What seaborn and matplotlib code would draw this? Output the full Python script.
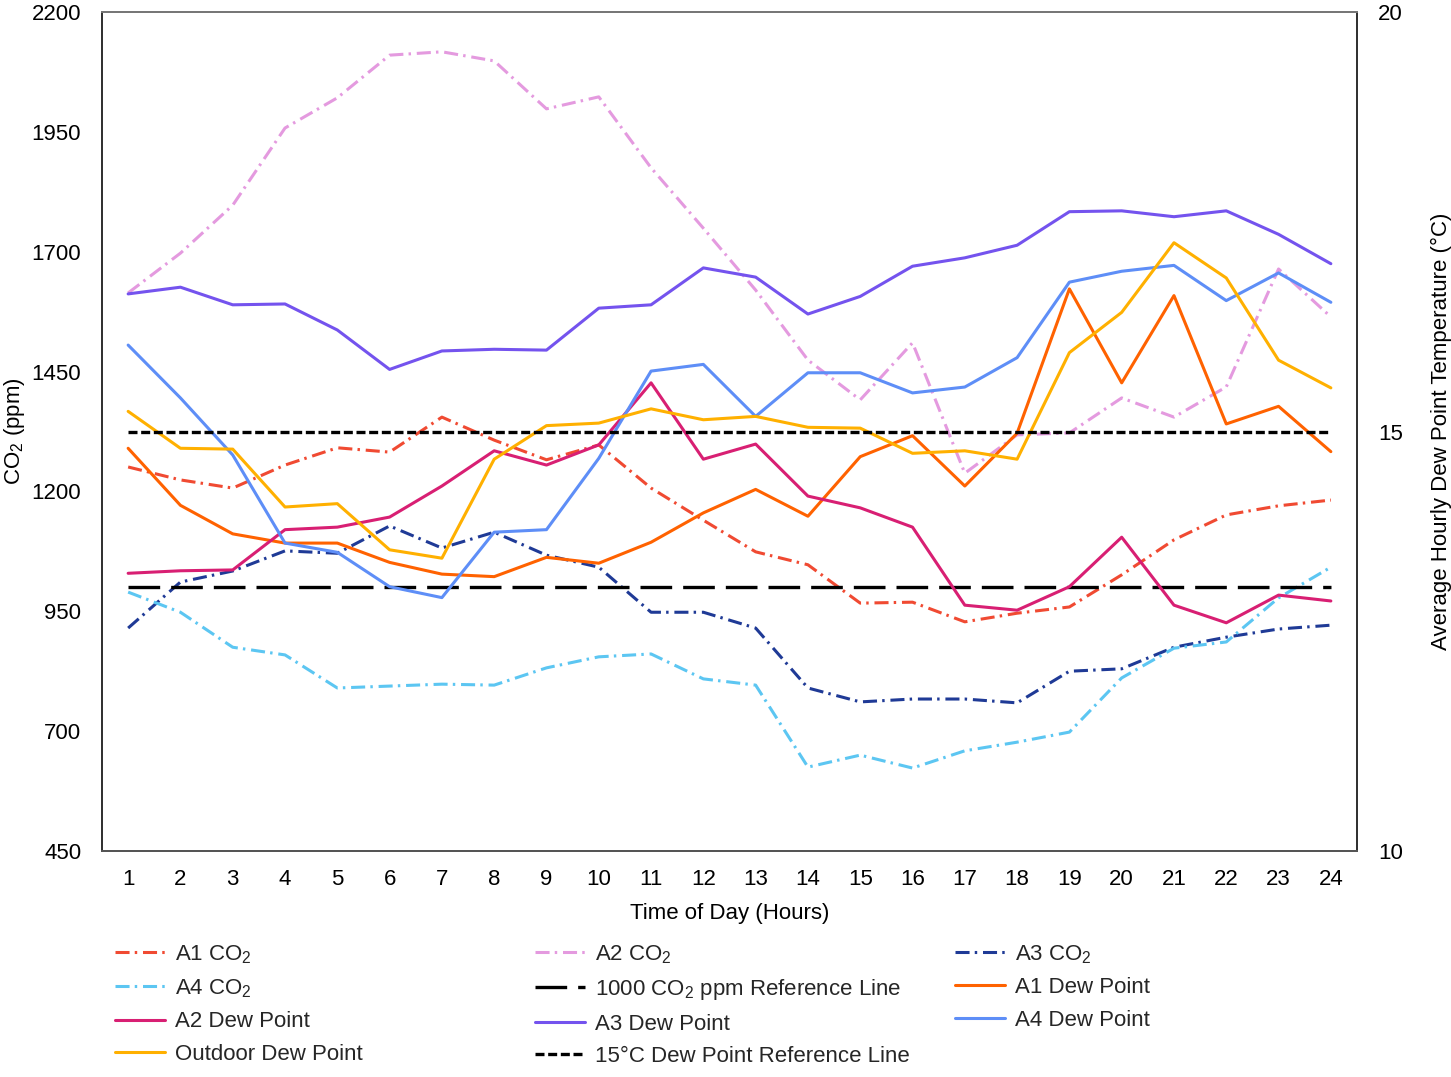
import matplotlib
matplotlib.use("Agg")
import matplotlib.pyplot as plt
import seaborn as sns
import numpy as np
import pandas as pd

sns.set_theme(style="white")
plt.rcParams['font.family'] = ['Liberation Sans', 'DejaVu Sans']
plt.rcParams['mathtext.fontset'] = 'custom'
plt.rcParams['mathtext.rm'] = 'Liberation Sans'
plt.rcParams['mathtext.it'] = 'Liberation Sans:italic'

hours = list(range(1, 25))

a1_co2 = [1251, 1224, 1207, 1255, 1291, 1282, 1355, 1307, 1266, 1297, 1207, 1140,
          1074, 1047, 967, 969, 928, 946, 959, 1026, 1099, 1151, 1170, 1182]
a2_co2 = [1614, 1697, 1797, 1958, 2021, 2110, 2117, 2098, 1998, 2023, 1875, 1749,
          1620, 1474, 1391, 1510, 1238, 1318, 1322, 1395, 1355, 1418, 1664, 1564]
a3_co2 = [915, 1011, 1034, 1076, 1071, 1128, 1082, 1115, 1067, 1042, 948, 948,
          915, 790, 761, 767, 767, 759, 825, 830, 875, 896, 913, 921]
a4_co2 = [990, 948, 875, 859, 790, 794, 798, 796, 832, 855, 861, 809,
          796, 625, 650, 623, 659, 677, 698, 811, 873, 886, 978, 1042]

a1_dew = [14.80, 14.12, 13.78, 13.67, 13.67, 13.44, 13.30, 13.27, 13.50, 13.43, 13.68, 14.03,
          14.31, 13.99, 14.70, 14.95, 14.35, 14.98, 16.70, 15.58, 16.62, 15.09, 15.30, 14.76]
a2_dew = [13.31, 13.34, 13.35, 13.83, 13.86, 13.98, 14.35, 14.77, 14.60, 14.84, 15.58, 14.67,
          14.85, 14.23, 14.09, 13.86, 12.93, 12.87, 13.15, 13.74, 12.93, 12.72, 13.05, 12.98]
a3_dew = [16.64, 16.72, 16.51, 16.52, 16.21, 15.74, 15.96, 15.98, 15.97, 16.47, 16.51, 16.95,
          16.84, 16.40, 16.61, 16.97, 17.07, 17.22, 17.62, 17.63, 17.56, 17.63, 17.35, 17.00]
a4_dew = [16.03, 15.40, 14.72, 13.67, 13.56, 13.15, 13.02, 13.80, 13.83, 14.68, 15.72, 15.80,
          15.18, 15.70, 15.70, 15.46, 15.53, 15.88, 16.78, 16.91, 16.98, 16.56, 16.89, 16.54]
outdoor_dew = [15.24, 14.80, 14.79, 14.10, 14.14, 13.59, 13.49, 14.67, 15.07, 15.10, 15.27, 15.14,
               15.18, 15.05, 15.04, 14.74, 14.77, 14.67, 15.94, 16.42, 17.25, 16.83, 15.85, 15.52]

co2_ref = 1000
dew_ref = 15

W, H = 1451, 1077
fig = plt.figure(figsize=(W / 100, H / 100), dpi=100)
ax = fig.add_axes([102 / W, 1 - 851 / H, (1357 - 102) / W, (851 - 12) / H])
ax2 = ax.twinx()

dashdot = (0, (4.6, 1.7, 0.8, 1.9))
lw = 2.2

co2_series = [
    ("A1 CO$_\\mathregular{2}$", a1_co2, "#F04A32"),
    ("A2 CO$_\\mathregular{2}$", a2_co2, "#E49ADF"),
    ("A3 CO$_\\mathregular{2}$", a3_co2, "#1F3A96"),
    ("A4 CO$_\\mathregular{2}$", a4_co2, "#5CC6F2"),
]
handles = {}
for name, vals, col in co2_series:
    sns.lineplot(x=hours, y=vals, ax=ax, color=col, linewidth=lw, linestyle=dashdot, legend=False)
    handles[name] = ax.get_lines()[-1]

ref1000 = "1000 CO$_\\mathregular{2}$ ppm Reference Line"
sns.lineplot(x=hours, y=[co2_ref] * len(hours), ax=ax, color="black", linewidth=2.4,
             linestyle=(0, (9.5, 3.3)), legend=False)
handles[ref1000] = ax.get_lines()[-1]

dew_series = [
    ("A1 Dew Point", a1_dew, "#FF6200"),
    ("A2 Dew Point", a2_dew, "#D81F73"),
    ("A3 Dew Point", a3_dew, "#7453EE"),
    ("A4 Dew Point", a4_dew, "#5E8EF7"),
    ("Outdoor Dew Point", outdoor_dew, "#FFB000"),
]
for name, vals, col in dew_series:
    sns.lineplot(x=hours, y=vals, ax=ax2, color=col, linewidth=lw, legend=False)
    handles[name] = ax2.get_lines()[-1]

ref15 = "15°C Dew Point Reference Line"
sns.lineplot(x=hours, y=[dew_ref] * len(hours), ax=ax2, color="black", linewidth=2.4,
             linestyle=(0, (2.7, 1.1)), legend=False)
handles[ref15] = ax2.get_lines()[-1]

ax.set_xlim(0.5, 24.5)
ax.set_ylim(450, 2200)
ax2.set_ylim(10, 20)
ax.set_xticks(hours)
ax.set_yticks(np.arange(450, 2201, 250))
ax2.set_yticks([10, 15, 20])

fs = 16
ax.tick_params(axis='x', length=0, labelsize=fs, colors="black", pad=13)
ax.tick_params(axis='y', length=0, labelsize=fs, colors="black", pad=15)
ax2.tick_params(axis='y', length=0, labelsize=fs, colors="black", pad=15)
ax.set_xlabel("Time of Day (Hours)", fontsize=fs, color="black", labelpad=9)
ax.set_ylabel("CO$_\\mathregular{2}$ (ppm)", fontsize=fs, color="black", labelpad=3)
ax2.set_ylabel("Average Hourly Dew Point Temperature (°C)", fontsize=fs, color="black", labelpad=20)

for a in (ax, ax2):
    for s in a.spines.values():
        s.set_color("#333333")
        s.set_linewidth(1.4)
    a.spines['top'].set_color("#777777")
    a.spines['bottom'].set_color("#555555")

columns = [
    (115, ["A1 CO$_\\mathregular{2}$", "A4 CO$_\\mathregular{2}$", "A2 Dew Point", "Outdoor Dew Point"]),
    (535, ["A2 CO$_\\mathregular{2}$", ref1000, "A3 Dew Point", ref15]),
    (955, ["A3 CO$_\\mathregular{2}$", "A1 Dew Point", "A4 Dew Point"]),
]
for xpix, names in columns:
    fig.legend([handles[k] for k in names], names, loc="upper left",
               bbox_to_anchor=(xpix / W, 1 - 943 / H), ncol=1, frameon=False, fontsize=fs,
               handlelength=2.25, handletextpad=0.45, labelspacing=0.52,
               borderaxespad=0, borderpad=0)

fig.savefig("out.png", dpi=100)
